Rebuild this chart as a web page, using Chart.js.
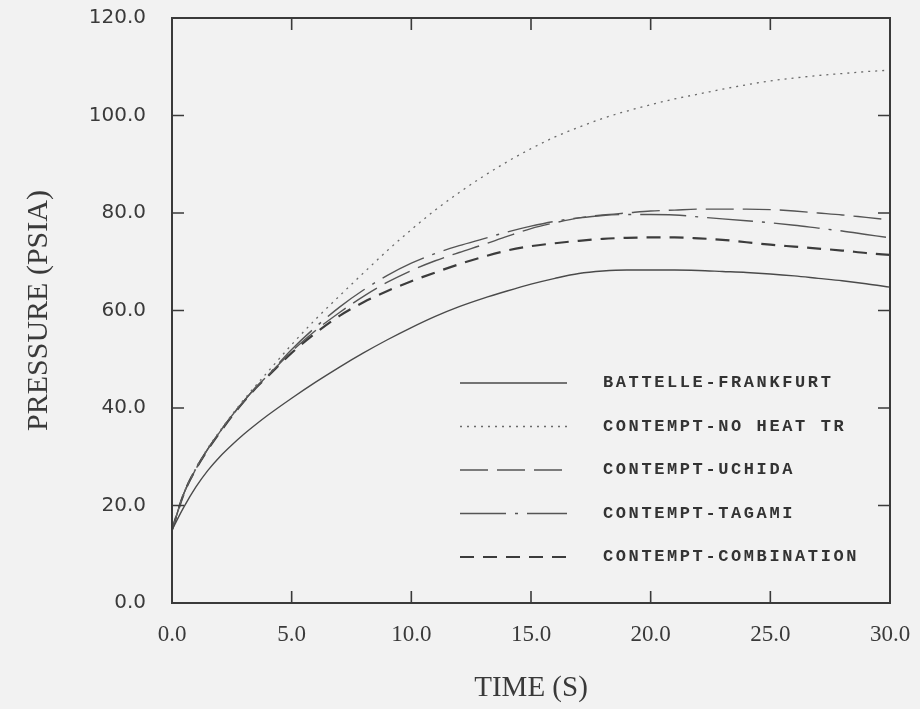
<!DOCTYPE html>
<html><head><meta charset="utf-8">
<script src="https://cdn.jsdelivr.net/npm/chart.js@4/dist/chart.umd.min.js"></script>
<style>html,body{margin:0;padding:0;background:#f2f2f2;} #wrap{width:920px;height:709px;position:relative;}</style>
</head><body><div id="wrap"><canvas id="c"></canvas></div>
<script>
const times = [0,0.5,1,1.5,2,2.5,3,3.5,4,5,6,7,8,9,10,11,12,13,14,15,16,17,18,19,20,21,22,23,24,25,26,27,28,29,30];
const battelle = [15,19.7,23.8,27.2,30,32.4,34.6,36.6,38.5,42,45.3,48.4,51.3,54,56.5,58.8,60.8,62.5,64,65.4,66.6,67.6,68.1,68.3,68.3,68.3,68.2,68,67.8,67.5,67.1,66.6,66.1,65.5,64.8];
const noHeat = [15,22.6,27.7,31.8,35.3,38.6,41.7,44.6,47.4,53,58.2,63,67.7,72.3,76.6,80.6,84.2,87.5,90.5,93.2,95.6,97.6,99.4,100.9,102.2,103.4,104.4,105.4,106.3,107.1,107.7,108.2,108.6,109,109.3];
const uchida = [15,22.5,27.5,31.6,35.1,38.4,41.4,44.2,46.6,51.6,55.9,59.6,62.9,65.8,68.2,70.2,71.9,73.5,75.2,76.8,78,79,79.6,80,80.4,80.6,80.8,80.8,80.8,80.7,80.4,80,79.6,79.1,78.6];
const tagami = [15,22.5,27.5,31.6,35.1,38.4,41.4,44.2,46.7,52,56.6,60.7,64.2,67.2,69.7,71.7,73.3,74.7,76.1,77.3,78.3,79,79.5,79.7,79.7,79.6,79.2,78.8,78.4,78,77.5,76.9,76.3,75.6,74.9];
const combination = [15,22.5,27.5,31.5,35,38.3,41.3,44.1,46.5,51.3,55.4,58.9,61.7,64,66,67.8,69.5,71,72.3,73.2,73.8,74.3,74.7,74.9,75,75,74.8,74.5,74,73.5,73.1,72.7,72.3,71.8,71.4];
const seriesLabels = ['BATTELLE-FRANKFURT','CONTEMPT-NO HEAT TR','CONTEMPT-UCHIDA','CONTEMPT-TAGAMI','CONTEMPT-COMBINATION'];
const xTickLabels = ['0.0','5.0','10.0','15.0','20.0','25.0','30.0'];
const yTickLabels = ['0.0','20.0','40.0','60.0','80.0','100.0','120.0'];

const pts = arr => arr.map((v,i)=>({x:times[i], y:v}));
const styles = [
  {borderColor:'#4a4a4a', borderWidth:1.4, borderDash:[]},
  {borderColor:'#6a6a6a', borderWidth:1.3, borderDash:[2,5]},
  {borderColor:'#555555', borderWidth:1.4, borderDash:[28,9]},
  {borderColor:'#555555', borderWidth:1.4, borderDash:[46,9,3,9]},
  {borderColor:'#3c3c3c', borderWidth:2.2, borderDash:[14,9]}
];
const values = [battelle, noHeat, uchida, tagami, combination];
const datasets = values.map((v,i)=>Object.assign({
  label: seriesLabels[i], data: pts(v), pointRadius:0, fill:false,
  cubicInterpolationMode:'monotone'
}, styles[i]));

const framePlugin = {
  id:'frame',
  afterDatasetsDraw(chart){
    const {ctx, chartArea:a, scales} = chart;
    ctx.save();
    ctx.strokeStyle = '#3a3a3a'; ctx.lineWidth = 2;
    ctx.setLineDash([]);
    ctx.strokeRect(a.left, a.top, a.right-a.left, a.bottom-a.top);
    const L = 12;
    ctx.lineWidth = 1.6;
    ctx.beginPath();
    for (let i=1;i<xTickLabels.length-1;i++){
      const x = scales.x.getPixelForValue(parseFloat(xTickLabels[i]));
      ctx.moveTo(x,a.bottom); ctx.lineTo(x,a.bottom-L);
      ctx.moveTo(x,a.top); ctx.lineTo(x,a.top+L);
    }
    for (let i=1;i<yTickLabels.length-1;i++){
      const y = scales.y.getPixelForValue(parseFloat(yTickLabels[i]));
      ctx.moveTo(a.left,y); ctx.lineTo(a.left+L,y);
      ctx.moveTo(a.right,y); ctx.lineTo(a.right-L,y);
    }
    ctx.stroke();
    ctx.restore();
  }
};
const legendPlugin = {
  id:'inlegend',
  afterDraw(chart){
    const {ctx, chartArea:a} = chart;
    ctx.save();
    chart.data.datasets.forEach((ds,i)=>{
      const y = a.top + 365 + i*43.5;
      ctx.strokeStyle = ds.borderColor; ctx.lineWidth = ds.borderWidth;
      ctx.setLineDash(ds.borderDash);
      ctx.beginPath(); ctx.moveTo(a.left+288, y); ctx.lineTo(a.left+395, y); ctx.stroke();
      ctx.setLineDash([]);
      ctx.fillStyle = '#333';
      ctx.font = 'bold 17px "Liberation Mono"';
      ctx.letterSpacing = '2.6px';
      ctx.textBaseline = 'middle'; ctx.textAlign = 'left';
      ctx.fillText(ds.label, a.left+431, y);
    });
    ctx.restore();
  }
};

new Chart(document.getElementById('c'), {
  type:'line',
  data:{datasets},
  options:{
    responsive:true, maintainAspectRatio:false, animation:false,
    devicePixelRatio:1,
    layout:{padding:{top:18, right:30, left:0, bottom:0}},
    plugins:{legend:{display:false}, tooltip:{enabled:false}},
    scales:{
      x:{type:'linear', min:0, max:30,
        afterFit(s){ s.height = 106; s.paddingLeft = 0; s.paddingRight = 0; },
        grid:{display:false}, border:{display:false},
        ticks:{stepSize:5, padding:10, color:'#3a3a3a', maxRotation:0,
          font:{family:'"Liberation Serif"', size:23},
          callback:(v)=>{const i = xTickLabels.indexOf(v.toFixed(1)); return i>=0? xTickLabels[i] : '';}},
        title:{display:true, text:'TIME (S)', color:'#3a3a3a', padding:{top:0,bottom:3},
          font:{family:'"Liberation Serif"', size:29}}
      },
      y:{type:'linear', min:0, max:120,
        afterFit(s){ s.width = 172; s.paddingTop = 0; s.paddingBottom = 0; },
        grid:{display:false}, border:{display:false},
        ticks:{stepSize:20, padding:18, color:'#3a3a3a',
          font:{family:'"DejaVu Sans"', size:20},
          callback:(v)=>{const i = yTickLabels.indexOf(v.toFixed(1)); return i>=0? yTickLabels[i] : '';}},
        title:{display:true, text:'PRESSURE (PSIA)', color:'#3a3a3a', padding:{top:21,bottom:0},
          font:{family:'"Liberation Serif"', size:30}}
      }
    }
  },
  plugins:[framePlugin, legendPlugin]
});
</script></body></html>
